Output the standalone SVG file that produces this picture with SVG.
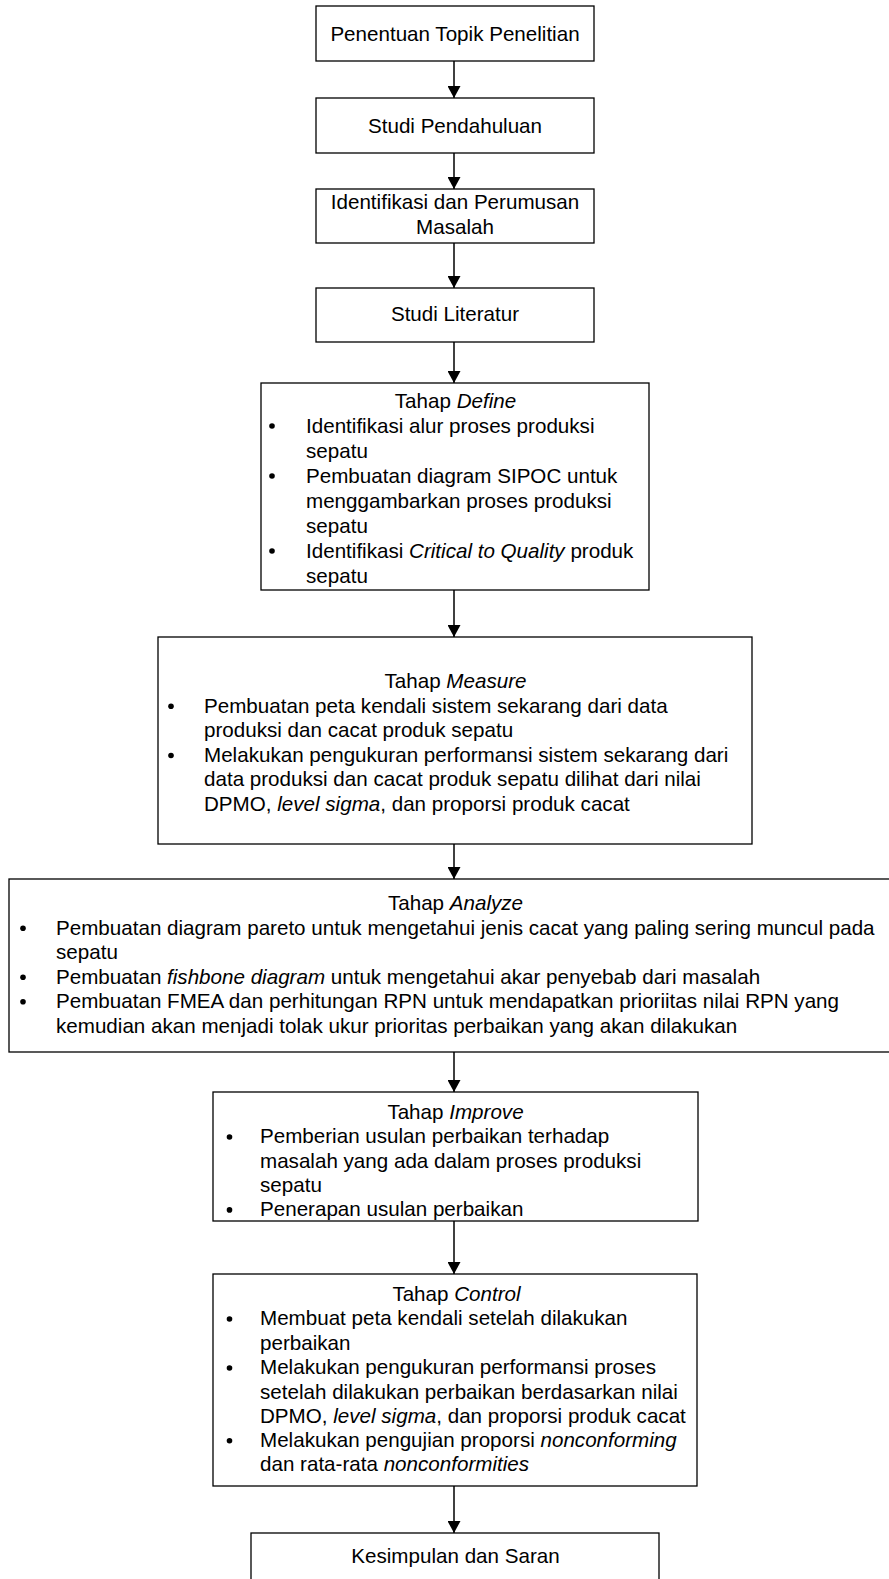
<svg xmlns="http://www.w3.org/2000/svg" width="889" height="1579" viewBox="0 0 889 1579">
<style>
rect.box{fill:#fff;stroke:#000;stroke-width:1.3}
text{font-family:"Liberation Sans",Arial,sans-serif;font-size:20.6px;fill:#000}
.c{text-anchor:middle}
.i{font-style:italic}
circle.b{fill:#000}
.conn line{stroke:#000;stroke-width:1.5}
</style>
<defs>
<marker id="ah" markerUnits="userSpaceOnUse" markerWidth="14" markerHeight="13" refX="12" refY="6.5" orient="auto">
<path d="M0,0 L12,6.5 L0,13 Z" fill="#000"/>
</marker>
</defs>
<g class="conn" id="connectors">
<line x1="454" y1="61" x2="454" y2="98" marker-end="url(#ah)"/>
<line x1="454" y1="153" x2="454" y2="189" marker-end="url(#ah)"/>
<line x1="454" y1="243" x2="454" y2="288" marker-end="url(#ah)"/>
<line x1="454" y1="342" x2="454" y2="383" marker-end="url(#ah)"/>
<line x1="454" y1="590" x2="454" y2="637" marker-end="url(#ah)"/>
<line x1="454" y1="844" x2="454" y2="879" marker-end="url(#ah)"/>
<line x1="454" y1="1052" x2="454" y2="1092" marker-end="url(#ah)"/>
<line x1="454" y1="1221" x2="454" y2="1274" marker-end="url(#ah)"/>
<line x1="454" y1="1486" x2="454" y2="1533" marker-end="url(#ah)"/>
</g>
<g id="n1">
<rect class="box" x="316" y="6" width="278" height="55"/>
<text class="c" x="455" y="40.5">Penentuan Topik Penelitian</text>
</g>
<g id="n2">
<rect class="box" x="316" y="98" width="278" height="55"/>
<text class="c" x="455" y="133">Studi Pendahuluan</text>
</g>
<g id="n3">
<rect class="box" x="316" y="189" width="278" height="54"/>
<text class="c" x="455" y="208.5">Identifikasi dan Perumusan</text>
<text class="c" x="455" y="233.5">Masalah</text>
</g>
<g id="n4">
<rect class="box" x="316" y="288" width="278" height="54"/>
<text class="c" x="455" y="321">Studi Literatur</text>
</g>
<g id="n5">
<rect class="box" x="261" y="383" width="388" height="207"/>
<text class="c" x="455.5" y="407.5">Tahap <tspan class="i">Define</tspan></text>
<circle class="b" cx="272" cy="426" r="2.8"/>
<text x="306" y="432.5">Identifikasi alur proses produksi</text>
<text x="306" y="457.5">sepatu</text>
<circle class="b" cx="272" cy="476" r="2.8"/>
<text x="306" y="482.5">Pembuatan diagram SIPOC untuk</text>
<text x="306" y="507.5">menggambarkan proses produksi</text>
<text x="306" y="532.5">sepatu</text>
<circle class="b" cx="272" cy="551" r="2.8"/>
<text x="306" y="557.5">Identifikasi <tspan class="i">Critical to Quality</tspan> produk</text>
<text x="306" y="582.5">sepatu</text>
</g>
<g id="n6">
<rect class="box" x="158" y="637" width="594" height="207"/>
<text class="c" x="455.5" y="688">Tahap <tspan class="i">Measure</tspan></text>
<circle class="b" cx="171" cy="706.3" r="2.8"/>
<text x="204" y="712.6">Pembuatan peta kendali sistem sekarang dari data</text>
<text x="204" y="737.2">produksi dan cacat produk sepatu</text>
<circle class="b" cx="171" cy="755.5" r="2.8"/>
<text x="204" y="761.8">Melakukan pengukuran performansi sistem sekarang dari</text>
<text x="204" y="786.4">data produksi dan cacat produk sepatu dilihat dari nilai</text>
<text x="204" y="811">DPMO, <tspan class="i">level sigma</tspan>, dan proporsi produk cacat</text>
</g>
<g id="n7">
<rect class="box" x="9" y="879" width="890" height="173"/>
<text class="c" x="455.5" y="910">Tahap <tspan class="i">Analyze</tspan></text>
<circle class="b" cx="23" cy="928.2" r="2.8"/>
<text x="56" y="934.5">Pembuatan diagram pareto untuk mengetahui jenis cacat yang paling sering muncul pada</text>
<text x="56" y="959">sepatu</text>
<circle class="b" cx="23" cy="977.2" r="2.8"/>
<text x="56" y="983.5">Pembuatan <tspan class="i">fishbone diagram</tspan> untuk mengetahui akar penyebab dari masalah</text>
<circle class="b" cx="23" cy="1001.7" r="2.8"/>
<text x="56" y="1008">Pembuatan FMEA dan perhitungan RPN untuk mendapatkan prioriitas nilai RPN yang</text>
<text x="56" y="1032.5">kemudian akan menjadi tolak ukur prioritas perbaikan yang akan dilakukan</text>
</g>
<g id="n8">
<rect class="box" x="213" y="1092" width="485" height="129"/>
<text class="c" x="455.5" y="1119">Tahap <tspan class="i">Improve</tspan></text>
<circle class="b" cx="229.5" cy="1137" r="2.8"/>
<text x="260" y="1143.3">Pemberian usulan perbaikan terhadap</text>
<text x="260" y="1167.6">masalah yang ada dalam proses produksi</text>
<text x="260" y="1191.9">sepatu</text>
<circle class="b" cx="229.5" cy="1209.9" r="2.8"/>
<text x="260" y="1216.2">Penerapan usulan perbaikan</text>
</g>
<g id="n9">
<rect class="box" x="213" y="1274" width="484" height="212"/>
<text class="c" x="456.5" y="1301">Tahap <tspan class="i">Control</tspan></text>
<circle class="b" cx="229.5" cy="1319" r="2.8"/>
<text x="260" y="1325.3">Membuat peta kendali setelah dilakukan</text>
<text x="260" y="1349.6">perbaikan</text>
<circle class="b" cx="229.5" cy="1368" r="2.8"/>
<text x="260" y="1374.3">Melakukan pengukuran performansi proses</text>
<text x="260" y="1398.6">setelah dilakukan perbaikan berdasarkan nilai</text>
<text x="260" y="1423">DPMO, <tspan class="i">level sigma</tspan>, dan proporsi produk cacat</text>
<circle class="b" cx="229.5" cy="1440.7" r="2.8"/>
<text x="260" y="1447">Melakukan pengujian proporsi <tspan class="i">nonconforming</tspan></text>
<text x="260" y="1471.3">dan rata-rata <tspan class="i">nonconformities</tspan></text>
</g>
<g id="n10">
<rect class="box" x="251" y="1533" width="408" height="60"/>
<text class="c" x="455.5" y="1563">Kesimpulan dan Saran</text>
</g>
</svg>
